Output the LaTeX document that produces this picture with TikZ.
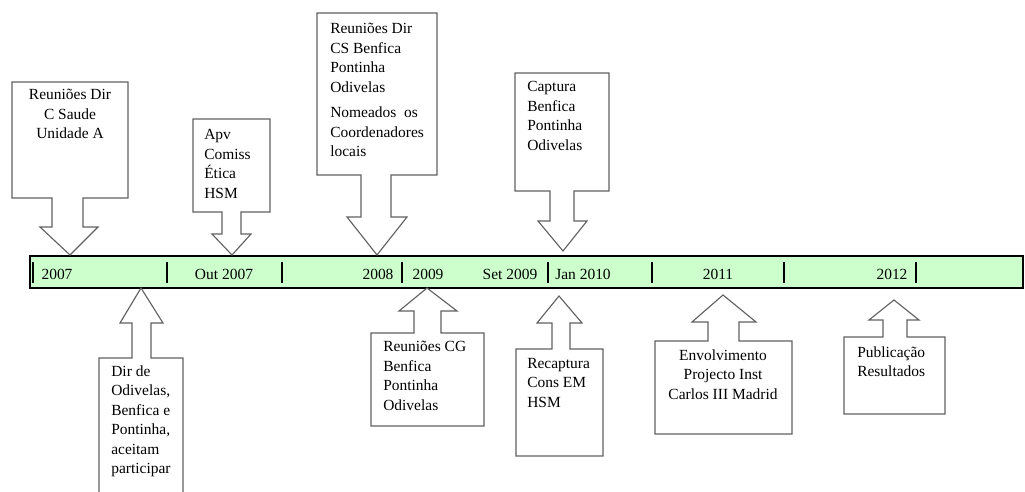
\documentclass[tikz,border=0pt]{standalone}
\usepackage{fontspec}
\setmainfont{Liberation Serif}
\usetikzlibrary{positioning}

\begin{document}
\begin{tikzpicture}[x=0.025cm, y=-0.025cm,
    callout/.style={draw=black!62, line width=0.8pt, fill=white, line join=miter},
    eventText/.style={inner sep=0pt, align=left, anchor=north west, font=\fontsize{11}{13.9}\selectfont,
      execute at begin node=\strut},
    dateLabel/.style={inner sep=0pt, anchor=base, font=\fontsize{11}{13.9}\selectfont},
    timeBar/.style={draw=black, line width=1pt, fill={rgb,255:red,204;green,255;blue,204}},
    tick/.style={draw=black, line width=1pt},
  ]
    \useasboundingbox (0,0) rectangle (1025,492);

    % time line
    \draw[timeBar] (30,256) rectangle (1023,288);

    \draw[tick] (33,262) -- (33,283);
    \draw[tick] (167,262) -- (167,283);
    \draw[tick] (282,262) -- (282,283);
    \draw[tick] (402,262) -- (402,283);
    \draw[tick] (548,262) -- (548,283);
    \draw[tick] (652,262) -- (652,283);
    \draw[tick] (784,262) -- (784,283);
    \draw[tick] (916,262) -- (916,283);

    \node[dateLabel] (date_0) at (57,279) {2007};
    \node[dateLabel] (date_1) at (224,279) {Out 2007};
    \node[dateLabel] (date_2) at (378,279) {2008};
    \node[dateLabel] (date_3) at (428,279) {2009};
    \node[dateLabel] (date_4) at (510,279) {Set 2009};
    \node[dateLabel] (date_5) at (583,279) {Jan 2010};
    \node[dateLabel] (date_6) at (718,279) {2011};
    \node[dateLabel] (date_7) at (892,279) {2012};

    % callouts above the line
    \draw[callout] (12,82) -- (128,82) -- (128,198) -- (83,198) -- (83,227) -- (98,227)
      -- (70,255) -- (40,227) -- (52,227) -- (52,198) -- (12,198) -- cycle;
    \draw[callout] (193,119) -- (270,119) -- (270,212) -- (241,212) -- (241,234) -- (251,234)
      -- (232,255) -- (212,234) -- (222,234) -- (222,212) -- (193,212) -- cycle;
    \draw[callout] (317,13) -- (437,13) -- (437,175) -- (391,175) -- (391,217) -- (407,217)
      -- (377,255) -- (347,217) -- (361,217) -- (361,175) -- (317,175) -- cycle;
    \draw[callout] (515,73) -- (609,73) -- (609,191) -- (574,191) -- (574,221) -- (587,221)
      -- (563,251) -- (538,221) -- (550,221) -- (550,191) -- (515,191) -- cycle;

    \node[eventText, align=center, anchor=north] (event_0) at (70,89) {Reuniões Dir\\C Saude\\Unidade A};
    \node[eventText] (event_1) at (204,129) {Apv\\Comiss\\Ética\\HSM};
    \node[eventText] (event_2) at (330,23) {Reuniões Dir\\CS Benfica\\Pontinha\\Odivelas\\[4pt]Nomeados \ os\\Coordenadores\\locais};
    \node[eventText] (event_3) at (527,81) {Captura\\Benfica\\Pontinha\\Odivelas};

    % callouts below the line
    \draw[callout] (141,288) -- (163,323) -- (151,323) -- (151,358) -- (183,358) -- (183,500)
      -- (99,500) -- (99,358) -- (132,358) -- (132,323) -- (120,323) -- cycle;
    \draw[callout] (427,288) -- (457,311) -- (441,311) -- (441,333) -- (484,333) -- (484,426)
      -- (371,426) -- (371,333) -- (414,333) -- (414,311) -- (399,311) -- cycle;
    \draw[callout] (559,296) -- (582,323) -- (570,323) -- (570,349) -- (603,349) -- (603,456)
      -- (516,456) -- (516,349) -- (552,349) -- (552,323) -- (537,323) -- cycle;
    \draw[callout] (723,295) -- (756,322) -- (739,322) -- (739,341) -- (792,341) -- (792,434)
      -- (655,434) -- (655,341) -- (708,341) -- (708,322) -- (692,322) -- cycle;
    \draw[callout] (894,300) -- (919,320) -- (907,320) -- (907,337) -- (945,337) -- (945,414)
      -- (844,414) -- (844,337) -- (883,337) -- (883,320) -- (869,320) -- cycle;

    \node[eventText] (event_4) at (111,365) {Dir de\\Odivelas,\\Benfica e\\Pontinha,\\aceitam\\participar};
    \node[eventText] (event_5) at (383,341) {Reuniões CG\\Benfica\\Pontinha\\Odivelas};
    \node[eventText] (event_6) at (527,358) {Recaptura\\Cons EM\\HSM};
    \node[eventText, align=center, anchor=north] (event_7) at (723,349) {Envolvimento\\Projecto Inst\\Carlos III Madrid};
    \node[eventText] (event_8) at (857,346) {Publicação\\Resultados};
\end{tikzpicture}
\end{document}
